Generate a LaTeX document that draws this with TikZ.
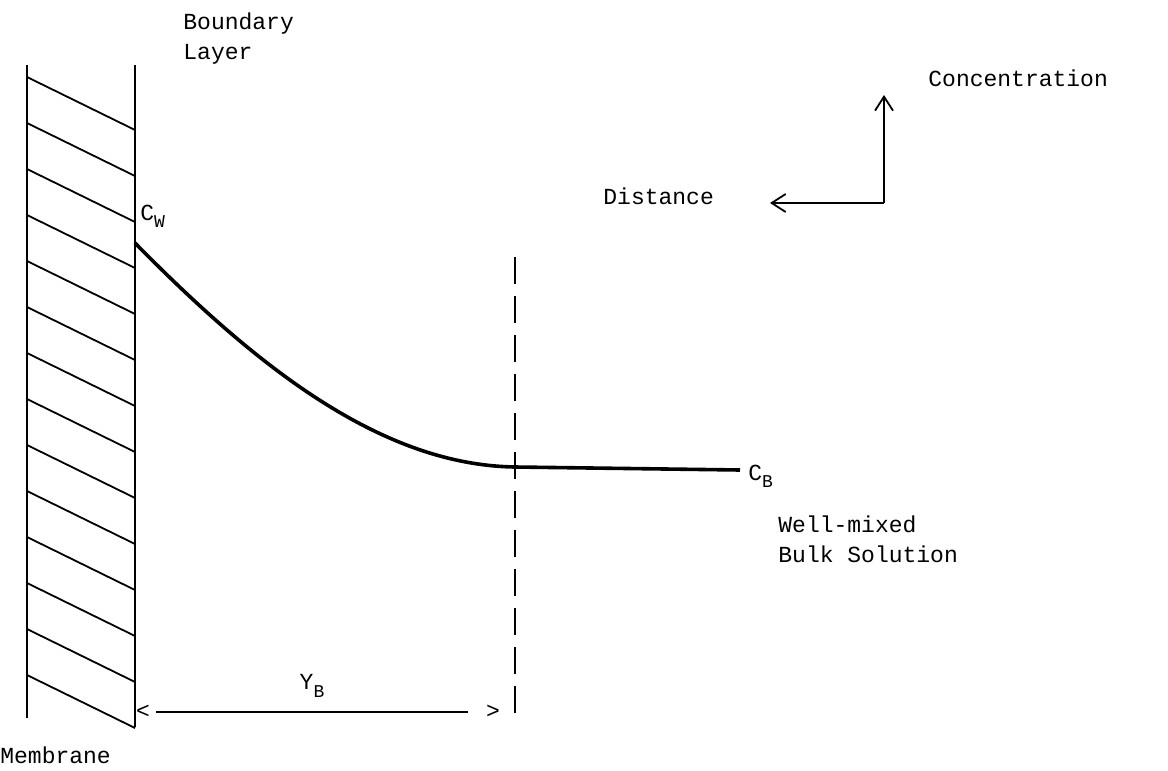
\documentclass[tikz,border=0pt]{standalone}
\usepackage{fontspec}
\setmonofont{Liberation Mono}
\usepackage{tikz}
\usetikzlibrary{arrows.meta,positioning}

\newcommand{\subtxt}[1]{\raisebox{-0.6ex}{\small #1}}

\begin{document}
\begin{tikzpicture}[x=0.5pt,y=-0.5pt,font=\ttfamily\fontsize{11.5}{15}\selectfont,
  thinline/.style={line width=0.9pt},
  openhead/.style={-{Straight Barb[length=7pt,width=9pt,line width=0.9pt]}}]
  \useasboundingbox (0,0) rectangle (1168,771);
  % membrane
  \draw[thinline] (27,65) -- (27,718);
  \draw[thinline] (135,65) -- (135,727);
  \foreach \k in {0,...,13}
    \draw[thinline] (27,77+46*\k) -- (135,130+46*\k);
  % boundary layer edge
  \coordinate (dtop) at (515,257);
  \coordinate (dbot) at (515,715);
  \draw[line width=1.1pt,dash pattern=on 13.5pt off 6pt] (dtop) -- (dbot);
  % concentration profile
  \coordinate (wall) at (135,243);
  \coordinate (edge) at (515,467);
  \coordinate (bulk) at (740,470);
  \draw[line width=1.8pt] (wall) .. controls (255,365) and (380,465) .. (edge) -- (bulk);
  % labels
  \node[anchor=north west,align=left,inner sep=0pt] (bl) at (183,12) {Boundary\\Layer};
  \node[anchor=west,inner sep=0pt] (cw) at (140,216) {C\subtxt{W}};
  \node[anchor=west,inner sep=0pt] (cb) at (748,476) {C\subtxt{B}};
  \node[anchor=north west,align=left,inner sep=0pt] (wm) at (778,515) {Well-mixed\\Bulk Solution};
  \node[anchor=west,inner sep=0pt] (mem) at (0,755) {Membrane};
  % thickness of boundary layer
  \node[inner sep=0pt] (lt) at (143,712) {<};
  \node[inner sep=0pt] (gt) at (493,712) {>};
  \node[inner sep=0pt] (yb) at (312,686) {Y\subtxt{B}};
  \draw[thinline] ([xshift=3pt]lt.east) -- ([xshift=-9pt]gt.west);
  % axes
  \coordinate (corner) at (884,203);
  \node[anchor=west,inner sep=0pt] (conc) at (928,78) {Concentration};
  \node[anchor=west,inner sep=0pt] (dist) at (603,196) {Distance};
  \coordinate (up) at (884,95);
  \coordinate (lf) at (770,203);
  \draw[thinline,openhead] (corner) -- (up);
  \draw[thinline,openhead] (corner) -- (lf);
\end{tikzpicture}
\end{document}
